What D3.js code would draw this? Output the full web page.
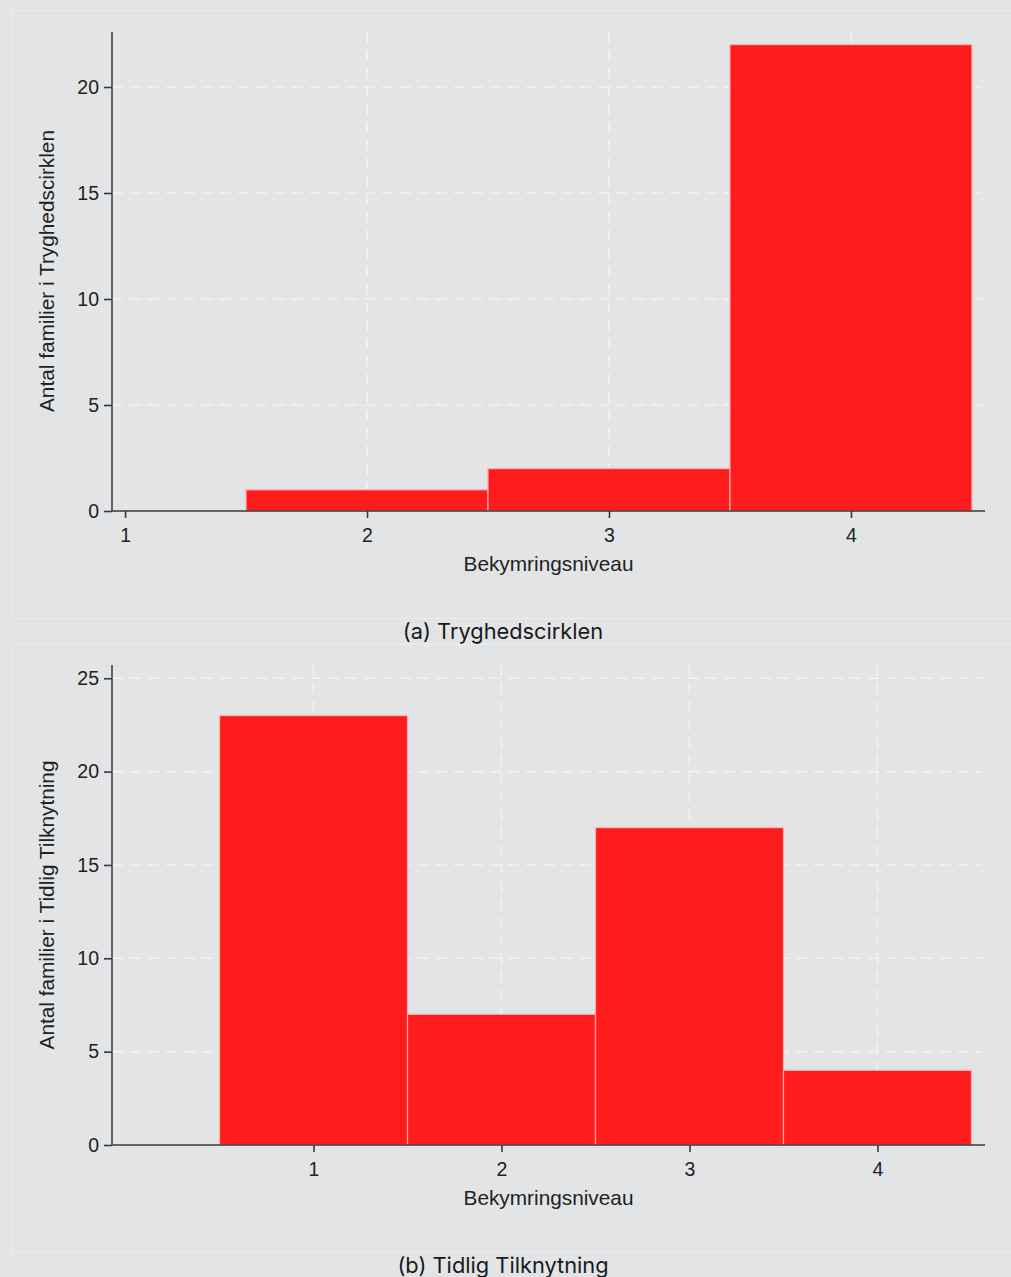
<!DOCTYPE html>
<html>
<head>
<meta charset="utf-8">
<script src="https://cdn.jsdelivr.net/npm/d3@7"></script>
<style>
  html, body { margin: 0; padding: 0; background: #e3e4e6; }
  svg { display: block; }
</style>
</head>
<body>
<svg id="fig" width="1011" height="1277"></svg>
<script>
// Bekymringsniveau (concern level) categories and family counts per program
const levels = [1, 2, 3, 4];
const tryghedCounts = [0, 1, 2, 22];
const tilknytningCounts = [23, 7, 17, 4];
const tryghedYTicks = [0, 5, 10, 15, 20];
const tilknytningYTicks = [0, 5, 10, 15, 20, 25];
// vertical grid positions (level 1 sits on the y axis in the first panel)
const tryghedXGrid = [2, 3, 4];
const tilknytningXGrid = [1, 2, 3, 4];

const svg = d3.select("#fig");
const axisFont = "'Liberation Sans', Arial, sans-serif";
const captionFont = "Inter, 'Noto Sans', sans-serif";
const barColor = "#ff1c1c";
const gridColor = "#f1f2f2";
const inkColor = "#222222";

function panel(cfg) {
  const g = svg.append("g");

  // panel frame
  g.append("rect")
    .attr("x", cfg.frame[0] + 0.5).attr("y", cfg.frame[1] + 0.5)
    .attr("width", cfg.frame[2]).attr("height", cfg.frame[3])
    .attr("fill", "none").attr("stroke", "#ecedef").attr("stroke-width", 1);

  const x = d3.scaleLinear().domain(cfg.xDomain).range([cfg.left, cfg.right]);
  const y = d3.scaleLinear().domain(cfg.yDomain).range([cfg.bottom, cfg.top]);

  // dashed grid
  g.append("g").selectAll("line")
    .data(cfg.yTicks.filter(d => d !== 0))
    .join("line")
    .attr("x1", cfg.left).attr("x2", cfg.right - 3)
    .attr("y1", d => y(d)).attr("y2", d => y(d))
    .attr("stroke", gridColor).attr("stroke-width", 1.6)
    .attr("stroke-dasharray", "11,7");
  g.append("g").selectAll("line")
    .data(cfg.xGrid)
    .join("line")
    .attr("x1", d => x(d)).attr("x2", d => x(d))
    .attr("y1", cfg.top).attr("y2", cfg.bottom)
    .attr("stroke", gridColor).attr("stroke-width", 1.6)
    .attr("stroke-dasharray", "11,7");

  // histogram bars, one unit wide centred on each level
  g.append("g").selectAll("rect")
    .data(levels.map((l, i) => ({ l, v: cfg.counts[i] })).filter(d => d.v > 0))
    .join("rect")
    .attr("x", d => x(d.l - 0.5))
    .attr("width", d => x(d.l + 0.5) - x(d.l - 0.5))
    .attr("y", d => y(d.v))
    .attr("height", d => y(0) - y(d.v))
    .attr("fill", barColor)
    .attr("stroke", "#ffb0b0").attr("stroke-width", 1.2);

  // axes
  const yAxis = d3.axisLeft(y).tickValues(cfg.yTicks).tickSize(8).tickPadding(5).tickFormat(d3.format("d"));
  const gy = g.append("g").attr("transform", `translate(${cfg.left},0)`).call(yAxis);
  const xAxis = d3.axisBottom(x).tickValues(levels).tickSize(7).tickPadding(10).tickFormat(d3.format("d"));
  const gx = g.append("g").attr("transform", `translate(0,${cfg.bottom})`).call(xAxis);

  [gy, gx].forEach(a => {
    a.select(".domain").attr("stroke", "#3a3a3a").attr("stroke-width", 1.5);
    a.selectAll(".tick line").attr("stroke", "#3a3a3a").attr("stroke-width", 1.6);
    a.selectAll(".tick text").attr("fill", inkColor)
      .style("font-family", axisFont).style("font-size", "19.5px");
  });
  // plain axis lines without end caps
  gy.select(".domain").attr("d", `M0,${cfg.top}V${cfg.bottom}`);
  gx.select(".domain").attr("d", `M${cfg.left},0H${cfg.right}`);

  // axis titles
  g.append("text")
    .attr("x", (cfg.left + cfg.right) / 2).attr("y", cfg.bottom + 60)
    .attr("text-anchor", "middle")
    .attr("fill", inkColor)
    .style("font-family", axisFont).style("font-size", "20.8px")
    .text("Bekymringsniveau");
  g.append("text")
    .attr("transform", `translate(${cfg.yTitleX},${cfg.yTitleY}) rotate(-90)`)
    .attr("text-anchor", "middle")
    .attr("fill", inkColor)
    .style("font-family", axisFont).style("font-size", "20.8px")
    .text(cfg.yTitle);

  // caption
  g.append("text")
    .attr("x", 503).attr("y", cfg.captionY)
    .attr("text-anchor", "middle")
    .attr("fill", "#1a1a1a")
    .style("font-family", captionFont).style("font-size", "21.8px")
    .text(cfg.caption);
}

panel({
  frame: [11, 10, 1010, 608],
  left: 112, right: 985, top: 32, bottom: 511,
  xDomain: [0.946, 4.554],
  yDomain: [0, (511 - 32) / 21.2],
  yTicks: tryghedYTicks,
  xGrid: tryghedXGrid,
  counts: tryghedCounts,
  yTitle: "Antal familier i Tryghedscirklen",
  yTitleX: 54, yTitleY: 271,
  caption: "(a) Tryghedscirklen",
  captionY: 639
});

panel({
  frame: [11, 644, 1010, 608],
  left: 112, right: 985, top: 665, bottom: 1145,
  xDomain: [-0.072, 4.572],
  yDomain: [0, (1145 - 665) / 18.67],
  yTicks: tilknytningYTicks,
  xGrid: tilknytningXGrid,
  counts: tilknytningCounts,
  yTitle: "Antal familier i Tidlig Tilknytning",
  yTitleX: 54, yTitleY: 905,
  caption: "(b) Tidlig Tilknytning",
  captionY: 1273
});
</script>
</body>
</html>
